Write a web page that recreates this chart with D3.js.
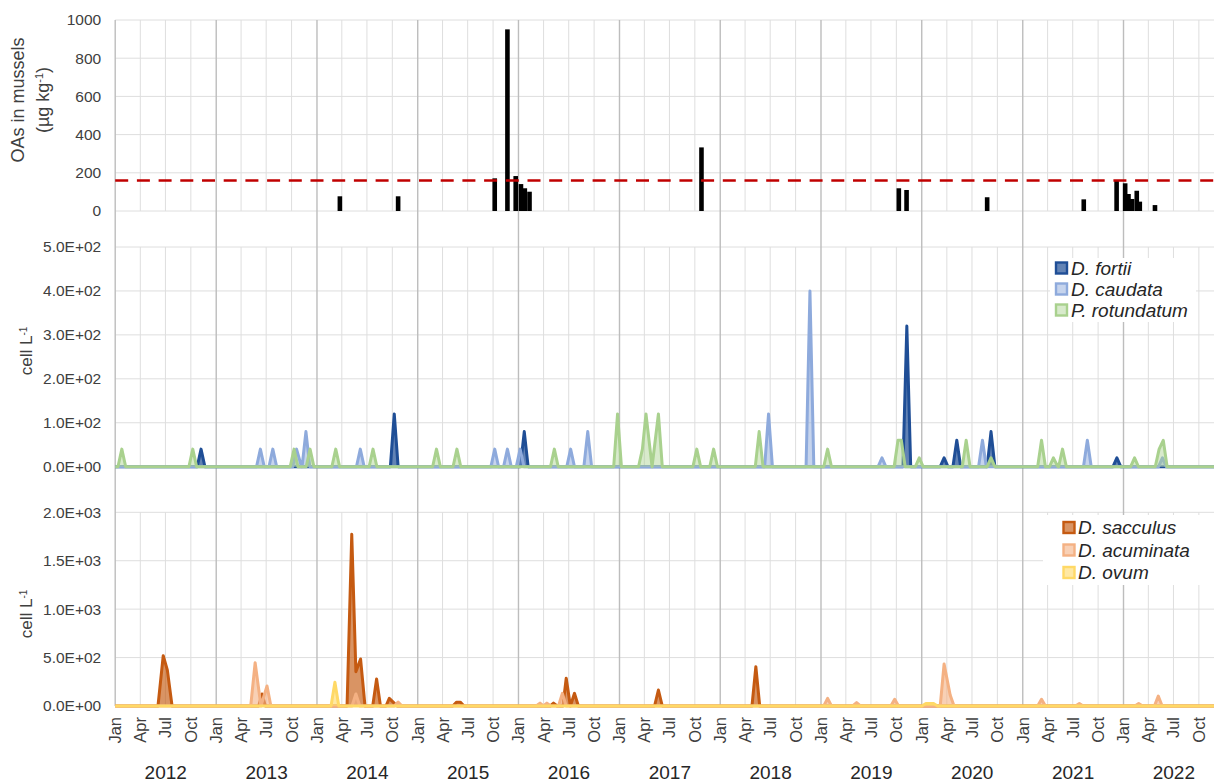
<!DOCTYPE html>
<html>
<head>
<meta charset="utf-8">
<script src="https://cdn.jsdelivr.net/npm/d3@7"></script>
<style>
  body { margin: 0; background: #fff; }
  svg { display: block; }
  text { font-family: "Liberation Sans", Arial, Helvetica, sans-serif; }
</style>
</head>
<body>
<svg id="chart" width="1214" height="782"></svg>
<script>
// ---------- data ----------
// Okadaic acid group toxins in mussels, µg OA eq. kg-1: [sampling date, value]
const oaSamples = [
  ["2014-03-25", 77], ["2014-10-22", 77],
  ["2015-10-07", 171], ["2015-11-22", 951], ["2015-12-22", 183],
  ["2016-01-10", 141], ["2016-01-24", 119], ["2016-02-10", 101],
  ["2017-10-25", 333],
  ["2019-10-10", 119], ["2019-11-07", 110],
  ["2020-08-25", 72],
  ["2021-08-10", 61], ["2021-12-07", 159],
  ["2022-01-07", 145], ["2022-01-19", 89], ["2022-02-01", 63],
  ["2022-02-18", 106], ["2022-03-01", 49], ["2022-04-25", 31]
];
const oaLimit = 160; // regulatory limit, µg kg-1

// Phytoplankton counts, cells L-1: [sampling date, value]
const fortii = [
  ["2012-01-01", 0],
  ["2012-10-24", 0], ["2012-11-07", 40], ["2012-11-21", 0],
  ["2014-09-24", 0], ["2014-10-08", 120], ["2014-10-22", 0],
  ["2016-01-08", 0], ["2016-01-22", 80], ["2016-02-05", 0],
  ["2019-10-25", 0], ["2019-11-08", 320], ["2019-11-22", 0],
  ["2020-03-08", 0], ["2020-03-22", 20], ["2020-04-05", 0],
  ["2020-04-23", 0], ["2020-05-07", 60], ["2020-05-21", 0],
  ["2020-08-25", 0], ["2020-09-08", 80], ["2020-09-22", 0],
  ["2021-11-24", 0], ["2021-12-08", 20], ["2021-12-22", 0],
  ["2022-12-01", 0]
];
const caudata = [
  ["2012-01-01", 0],
  ["2013-05-27", 0], ["2013-06-10", 40], ["2013-06-24", 0],
  ["2013-07-11", 0], ["2013-07-25", 40], ["2013-08-08", 0],
  ["2013-10-05", 0], ["2013-10-19", 40], ["2013-11-06", 0],
  ["2013-11-08", 0], ["2013-11-22", 80], ["2013-12-06", 0],
  ["2014-05-24", 0], ["2014-06-07", 40], ["2014-06-21", 0],
  ["2015-09-23", 0], ["2015-10-07", 40], ["2015-10-21", 0],
  ["2015-11-08", 0], ["2015-11-22", 40], ["2015-12-06", 0],
  ["2015-12-24", 0], ["2016-01-07", 40], ["2016-01-21", 0],
  ["2016-06-24", 0], ["2016-07-08", 40], ["2016-07-22", 0],
  ["2016-08-25", 0], ["2016-09-08", 80], ["2016-09-22", 0],
  ["2018-06-11", 0], ["2018-06-25", 120], ["2018-07-09", 0],
  ["2018-11-08", 0], ["2018-11-22", 400], ["2018-12-06", 0],
  ["2019-07-27", 0], ["2019-08-10", 20], ["2019-08-24", 0],
  ["2020-07-25", 0], ["2020-08-08", 60], ["2020-08-22", 0],
  ["2021-08-09", 0], ["2021-08-23", 60], ["2021-09-06", 0],
  ["2022-05-08", 0], ["2022-05-22", 20], ["2022-06-05", 0],
  ["2022-12-01", 0]
];
const rotundatum = [
  ["2012-01-01", 0],
  ["2012-01-11", 0], ["2012-01-25", 40], ["2012-02-08", 0],
  ["2012-09-24", 0], ["2012-10-08", 40], ["2012-10-22", 0],
  ["2013-09-26", 0], ["2013-10-10", 40], ["2013-10-24", 0],
  ["2013-11-23", 0], ["2013-12-07", 40], ["2013-12-21", 0],
  ["2014-02-24", 0], ["2014-03-10", 40], ["2014-03-24", 0],
  ["2014-07-09", 0], ["2014-07-23", 40], ["2014-08-06", 0],
  ["2015-02-24", 0], ["2015-03-10", 40], ["2015-03-24", 0],
  ["2015-05-09", 0], ["2015-05-23", 40], ["2015-06-06", 0],
  ["2016-04-26", 0], ["2016-05-10", 40], ["2016-05-24", 0],
  ["2016-12-11", 0], ["2016-12-25", 120], ["2017-01-08", 0],
  ["2017-03-11", 0], ["2017-03-25", 40], ["2017-04-07", 120], ["2017-04-29", 0],
  ["2017-05-22", 120], ["2017-06-05", 0],
  ["2017-09-24", 0], ["2017-10-08", 40], ["2017-10-22", 0],
  ["2017-11-24", 0], ["2017-12-08", 40], ["2017-12-22", 0],
  ["2018-05-08", 0], ["2018-05-22", 80], ["2018-06-05", 0],
  ["2019-01-11", 0], ["2019-01-25", 40], ["2019-02-08", 0],
  ["2019-09-23", 0], ["2019-10-07", 60], ["2019-10-19", 60], ["2019-11-02", 0],
  ["2019-12-09", 0], ["2019-12-23", 20], ["2020-01-06", 0],
  ["2020-05-27", 0], ["2020-06-10", 60], ["2020-06-24", 0],
  ["2020-08-25", 0], ["2020-09-08", 20], ["2020-09-22", 0],
  ["2021-02-24", 0], ["2021-03-10", 60], ["2021-03-24", 0],
  ["2021-04-08", 0], ["2021-04-22", 20], ["2021-05-08", 0],
  ["2021-05-11", 0], ["2021-05-25", 40], ["2021-06-08", 0],
  ["2022-01-27", 0], ["2022-02-10", 20], ["2022-02-24", 0],
  ["2022-04-26", 0], ["2022-05-10", 40], ["2022-05-25", 60], ["2022-06-08", 0],
  ["2022-12-01", 0]
];
const sacculus = [
  ["2012-01-01", 0],
  ["2012-06-04", 0], ["2012-06-23", 520], ["2012-07-08", 370], ["2012-07-25", 0],
  ["2013-06-04", 0], ["2013-06-16", 124], ["2013-06-28", 0],
  ["2014-04-20", 0], ["2014-05-07", 1773], ["2014-05-22", 354], ["2014-06-08", 485], ["2014-06-24", 0],
  ["2014-07-22", 0], ["2014-08-05", 279], ["2014-08-19", 0],
  ["2014-09-08", 0], ["2014-09-20", 79], ["2014-10-04", 40], ["2014-10-18", 0],
  ["2015-05-08", 0], ["2015-05-22", 40], ["2015-06-04", 40], ["2015-06-18", 0],
  ["2016-04-25", 0], ["2016-05-07", 30], ["2016-05-20", 0],
  ["2016-06-10", 0], ["2016-06-22", 286], ["2016-07-07", 0], ["2016-07-22", 131], ["2016-08-05", 0],
  ["2017-05-08", 0], ["2017-05-22", 165], ["2017-06-05", 0],
  ["2018-04-26", 0], ["2018-05-10", 406], ["2018-05-24", 0],
  ["2022-12-01", 0]
];
const acuminata = [
  ["2012-01-01", 0],
  ["2013-05-06", 0], ["2013-05-22", 447], ["2013-06-12", 0], ["2013-07-04", 206], ["2013-07-18", 0],
  ["2014-05-08", 0], ["2014-05-22", 124], ["2014-06-05", 0],
  ["2014-10-08", 0], ["2014-10-22", 40], ["2014-11-05", 0],
  ["2016-03-05", 0], ["2016-03-19", 30], ["2016-03-31", 0], ["2016-04-13", 30], ["2016-04-27", 0],
  ["2016-05-25", 0], ["2016-06-08", 131], ["2016-06-22", 0],
  ["2019-01-11", 0], ["2019-01-25", 79], ["2019-02-08", 0],
  ["2019-04-26", 0], ["2019-05-10", 35], ["2019-05-24", 0],
  ["2019-09-11", 0], ["2019-09-25", 69], ["2019-10-09", 0],
  ["2020-03-08", 0], ["2020-03-22", 434], ["2020-04-13", 113], ["2020-04-27", 0],
  ["2021-02-24", 0], ["2021-03-10", 69], ["2021-03-24", 0],
  ["2021-07-11", 0], ["2021-07-25", 25], ["2021-08-08", 0],
  ["2022-02-11", 0], ["2022-02-25", 25], ["2022-03-11", 0],
  ["2022-04-23", 0], ["2022-05-07", 103], ["2022-05-21", 0],
  ["2022-12-01", 0]
];
const ovum = [
  ["2012-01-01", 0],
  ["2014-02-21", 0], ["2014-03-07", 245], ["2014-03-21", 0],
  ["2020-01-02", 0], ["2020-01-16", 25], ["2020-02-13", 25], ["2020-02-27", 0],
  ["2022-12-01", 0]
];

const years = [2012, 2013, 2014, 2015, 2016, 2017, 2018, 2019, 2020, 2021, 2022];
const oaTicks = [0, 200, 400, 600, 800, 1000];
const midTicks = [0, 100, 200, 300, 400, 500];
const lowTicks = [0, 500, 1000, 1500, 2000];

const midSeries = [
  { name: "D. fortii", data: fortii, color: "#1f4e96", fillOpacity: 0.7 },
  { name: "D. caudata", data: caudata, color: "#8eaadc", fillOpacity: 0.5 },
  { name: "P. rotundatum", data: rotundatum, color: "#a9d18e", fillOpacity: 0.45 }
];
const lowSeries = [
  { name: "D. sacculus", data: sacculus, color: "#c55a11", fillOpacity: 0.65 },
  { name: "D. acuminata", data: acuminata, color: "#f4b183", fillOpacity: 0.6 },
  { name: "D. ovum", data: ovum, color: "#ffd966", fillOpacity: 0.6 }
];

// ---------- layout ----------
const parse = d3.utcParse("%Y-%m-%d");
const svg = d3.select("#chart");
const xLeft = 115.2, xRight = 1215.7;
const x = d3.scaleUtc()
  .domain([Date.UTC(2012, 0, 1), Date.UTC(2022, 11, 1)])
  .range([xLeft, xRight]);

const panels = {
  top: { y: d3.scaleLinear().domain([0, 1000]).range([211, 20]), ticks: oaTicks },
  mid: { y: d3.scaleLinear().domain([0, 500]).range([466.7, 247]), ticks: midTicks },
  low: { y: d3.scaleLinear().domain([0, 2000]).range([706, 512.3]), ticks: lowTicks }
};

const sciFmt = v => {
  const [m, e] = v.toExponential(1).split("e");
  const n = Math.abs(+e);
  return m + "E" + (e[0] === "-" ? "-" : "+") + String(n).padStart(2, "0");
};

const quarterTicks = x.ticks(d3.utcMonth.every(3));
const gridColor = "#dedede";
const yearLineColor = "#bdbdbd";
const textColor = "#404040";

// ---------- gridlines ----------
const grid = svg.append("g");
Object.values(panels).forEach(p => {
  const [y0, y1] = p.y.range();
  grid.selectAll(null)
    .data(p.ticks).enter().append("line")
    .attr("x1", xLeft).attr("x2", 1214)
    .attr("y1", d => p.y(d)).attr("y2", d => p.y(d))
    .attr("stroke", gridColor).attr("stroke-width", 1);
  grid.selectAll(null)
    .data(quarterTicks.filter(d => d.getUTCMonth() !== 0)).enter().append("line")
    .attr("x1", d => x(d)).attr("x2", d => x(d))
    .attr("y1", y1).attr("y2", y0)
    .attr("stroke", gridColor).attr("stroke-width", 1);
});
// year separators run through all three panels
grid.selectAll(null)
  .data(quarterTicks.filter(d => d.getUTCMonth() === 0)).enter().append("line")
  .attr("x1", d => x(d)).attr("x2", d => x(d))
  .attr("y1", 20).attr("y2", 706)
  .attr("stroke", yearLineColor).attr("stroke-width", 1.4);

// ---------- y axes ----------
function yAxis(p, fmt) {
  const g = svg.append("g").attr("transform", `translate(${xLeft},0)`)
    .call(d3.axisLeft(p.y).tickValues(p.ticks).tickFormat(fmt).tickSize(0).tickPadding(14));
  g.select(".domain").remove();
  g.selectAll("text")
    .attr("fill", textColor)
    .style("font-size", "15.5px")
    .style("font-family", '"Liberation Sans", Arial, sans-serif');
}
yAxis(panels.top, d3.format("d"));
yAxis(panels.mid, sciFmt);
yAxis(panels.low, sciFmt);

// y titles
svg.append("text")
  .attr("transform", "translate(24,100) rotate(-90)")
  .attr("text-anchor", "middle").attr("fill", textColor)
  .style("font-size", "18px").text("OAs in mussels");
const t2 = svg.append("text")
  .attr("transform", "translate(49,100) rotate(-90)")
  .attr("text-anchor", "middle").attr("fill", textColor)
  .style("font-size", "18px");
t2.append("tspan").text("(µg kg");
t2.append("tspan").attr("baseline-shift", "super").style("font-size", "11px").text("-1");
t2.append("tspan").text(")");

function cellTitle(cy) {
  const t = svg.append("text")
    .attr("transform", `translate(32,${cy}) rotate(-90)`)
    .attr("text-anchor", "middle").attr("fill", textColor)
    .style("font-size", "17px");
  t.append("tspan").text("cell L");
  t.append("tspan").attr("baseline-shift", "super").style("font-size", "10px").text("-1");
}
cellTitle(351);
cellTitle(614);

// ---------- OA bars ----------
const yTop = panels.top.y;
svg.append("g").selectAll("rect")
  .data(oaSamples).enter().append("rect")
  .attr("x", d => x(parse(d[0])) - 2.3)
  .attr("width", 4.6)
  .attr("y", d => yTop(d[1]))
  .attr("height", d => yTop(0) - yTop(d[1]))
  .attr("fill", "#000");

svg.append("line")
  .attr("x1", xLeft).attr("x2", 1214)
  .attr("y1", yTop(oaLimit)).attr("y2", yTop(oaLimit))
  .attr("stroke", "#c00000").attr("stroke-width", 2.6)
  .attr("stroke-dasharray", "13 8.7");

// ---------- area series ----------
function drawAreas(seriesList, y) {
  const area = d3.area().x(d => x(parse(d[0]))).y0(y(0)).y1(d => y(d[1]));
  const line = d3.line().x(d => x(parse(d[0]))).y(d => y(d[1]));
  const g = svg.append("g");
  seriesList.forEach(s => {
    g.append("path").datum(s.data)
      .attr("d", area).attr("fill", s.color).attr("fill-opacity", s.fillOpacity);
    g.append("path").datum(s.data)
      .attr("d", line).attr("fill", "none").attr("stroke", s.color)
      .attr("stroke-width", 3).attr("stroke-linejoin", "round");
  });
}
drawAreas(midSeries, panels.mid.y);
drawAreas(lowSeries, panels.low.y);

// ---------- legends ----------
function legend(seriesList, box, sq, textX, rows, fontSize) {
  const g = svg.append("g");
  g.append("rect").attr("x", box[0]).attr("y", box[1])
    .attr("width", box[2]).attr("height", box[3]).attr("fill", "#fff");
  seriesList.forEach((s, i) => {
    const cy = rows[i];
    g.append("rect").attr("x", sq[0]).attr("y", cy - sq[1] / 2)
      .attr("width", sq[1]).attr("height", sq[1])
      .attr("fill", s.color).attr("fill-opacity", s.fillOpacity)
      .attr("stroke", s.color).attr("stroke-width", 2.4);
    g.append("text").attr("x", textX).attr("y", cy).attr("dy", "0.35em")
      .attr("fill", "#262626").style("font-size", fontSize + "px")
      .style("font-style", "italic").text(s.name);
  });
}
legend(midSeries, [1050, 258, 146, 64], [1056, 11], 1071, [268, 289, 310], 19);
legend(lowSeries, [1043, 515, 171, 70], [1063.5, 11], 1078, [527.5, 550, 572.5], 19);

// ---------- x axis labels ----------
const monthFmt = d3.utcFormat("%b");
svg.append("g").selectAll("text")
  .data(quarterTicks).enter().append("text")
  .attr("transform", d => `translate(${x(d)},717) rotate(-90)`)
  .attr("text-anchor", "end").attr("dy", "0.36em")
  .attr("fill", textColor).style("font-size", "16.5px")
  .text(d => monthFmt(d));

svg.append("g").selectAll("text")
  .data(years).enter().append("text")
  .attr("x", d => (x(Date.UTC(d, 0, 1)) + x(Date.UTC(d + 1, 0, 1))) / 2)
  .attr("y", 779)
  .attr("text-anchor", "middle").attr("fill", "#262626")
  .style("font-size", "19px")
  .text(d => d);
</script>
</body>
</html>
